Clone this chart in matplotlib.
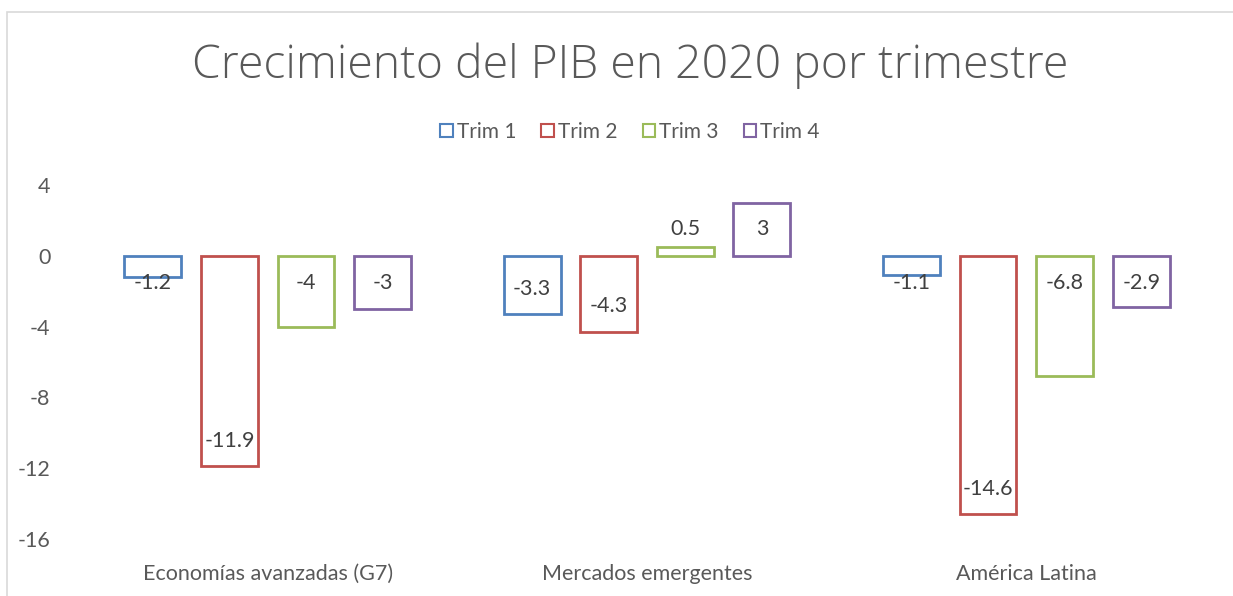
import matplotlib.pyplot as plt
from matplotlib.patches import Patch, Rectangle
import numpy as np

plt.rcParams['font.family'] = ['Lato', 'DejaVu Sans']
plt.rcParams['axes.unicode_minus'] = False

categories = ['Economías avanzadas (G7)', 'Mercados emergentes', 'América Latina']
series = ['Trim 1', 'Trim 2', 'Trim 3', 'Trim 4']
trim1 = [-1.2, -3.3, -1.1]
trim2 = [-11.9, -4.3, -14.6]
trim3 = [-4, 0.5, -6.8]
trim4 = [-3, 3, -2.9]
colors = ['#4F81BD', '#C0504D', '#9BBB59', '#8064A2']
# where Excel placed each data label: base / end / out
label_pos = [['base', 'end', 'base'],
             ['end', 'end', 'end'],
             ['base', 'out', 'base'],
             ['base', 'end', 'base']]

fig = plt.figure(figsize=(12.33, 5.96), dpi=100)
fig.patches.append(Rectangle((7 / 1233, -0.05), 1.1, 1 - 12 / 596 + 0.05,
                             transform=fig.transFigure, fill=False,
                             edgecolor='#D9D9D9', linewidth=1.2))
ax = fig.add_axes([0.0633, 0.0956, 0.9229, 0.594])

x = np.arange(len(categories))
pitch = 0.202
width = 0.15
values = [trim1, trim2, trim3, trim4]
for i, (name, vals, c) in enumerate(zip(series, values, colors)):
    xs = x + (i - 1.5) * pitch
    ax.bar(xs, vals, width, facecolor='none', edgecolor=c, linewidth=2, label=name)
    for xv, v, mode in zip(xs, vals, label_pos[i]):
        if mode == 'base':
            ly = -1.55 if v < 0 else 1.55
        elif mode == 'end':
            ly = v + 1.45 if v < 0 else v - 1.5
        else:
            ly = v + 1.0
        ax.text(xv, ly, f'{v:g}', ha='center', va='center', fontsize=15.5, color='#404040')

ax.set_xlim(-0.5, 2.5)
ax.set_ylim(-16, 4)
ax.set_yticks([4, 0, -4, -8, -12, -16])
ax.set_xticks(x)
ax.set_xticklabels(categories)
ax.tick_params(axis='both', length=0, labelsize=15.5, labelcolor='#595959')
ax.tick_params(axis='y', pad=20)
ax.tick_params(axis='x', pad=18)
for s in ax.spines.values():
    s.set_visible(False)

handles = [Patch(facecolor='none', edgecolor=c, linewidth=1.5, label=n) for n, c in zip(series, colors)]
fig.legend(handles=handles, loc='center', bbox_to_anchor=(0.511, 1 - 132 / 596), ncol=4,
           frameon=False, fontsize=15, labelcolor='#595959', handlelength=0.6,
           handleheight=0.6, handletextpad=0.2, columnspacing=1.2)

fig.text(0.511, 1 - 66 / 596, 'Crecimiento del PIB en 2020 por trimestre', ha='center', va='center',
         fontsize=33.4, family=['Open Sans', 'Lato'], fontweight='light', color='#595959')

plt.savefig('out.png')
plt.close()
